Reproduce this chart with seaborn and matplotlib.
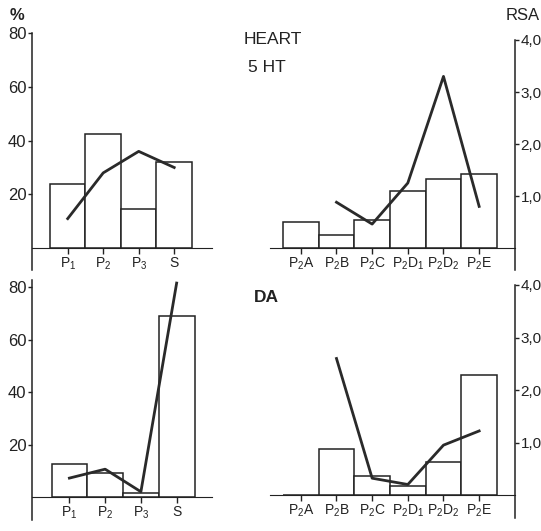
import matplotlib
matplotlib.use("Agg")
import matplotlib.pyplot as plt
import seaborn as sns
import numpy as np
import pandas as pd

# ---- data ----
cats_left = ["P1", "P2", "P3", "S"]
labels_left = [r"$\mathrm{P_1}$", r"$\mathrm{P_2}$", r"$\mathrm{P_3}$", "S"]
cats_right = ["P2A", "P2B", "P2C", "P2D1", "P2D2", "P2E"]
labels_right = [r"$\mathrm{P_2A}$", r"$\mathrm{P_2B}$", r"$\mathrm{P_2C}$",
                r"$\mathrm{P_2D_1}$", r"$\mathrm{P_2D_2}$", r"$\mathrm{P_2E}$"]

# HEART 5HT
ht_bar_left = [24, 42.5, 14.5, 32]
ht_line_left = [11, 28, 36, 30]
ht_bar_right = [0.5, 0.25, 0.54, 1.1, 1.33, 1.42]
ht_line_cats = ["P2B", "P2C", "P2D1", "P2D2", "P2E"]
ht_line_right = [0.88, 0.46, 1.25, 3.3, 0.8]

# DA
da_bar_left = [12.6, 9, 1.5, 69]
da_line_left = [7.2, 10.6, 2, 81.5]
da_bar_right = [0, 0.88, 0.36, 0.17, 0.63, 2.28]
da_line_cats = ["P2B", "P2C", "P2D1", "P2D2", "P2E"]
da_line_right = [2.6, 0.32, 0.2, 0.95, 1.22]

W, H = 541, 531
plt.rcParams['font.family'] = ['Liberation Sans', 'DejaVu Sans']
plt.rcParams['mathtext.fontset'] = 'custom'
plt.rcParams['mathtext.rm'] = 'Liberation Sans'
plt.rcParams['mathtext.it'] = 'Liberation Sans'
fig = plt.figure(figsize=(W / 100, H / 100), dpi=100)
XFS = 12
LFS = 12
RFS = 11
INK = "#222222"


def add_ax(l, r, t, b):
    return fig.add_axes([l / W, 1 - b / H, (r - l) / W, (b - t) / H])


def draw_panel(ax, cats, labels, bars, line_cats, line_vals, side, xlim, ylim, yticks, ytl):
    df = pd.DataFrame({"cat": cats, "val": bars})
    sns.barplot(data=df, x="cat", y="val", order=cats, color="white", saturation=1,
                edgecolor=INK, linewidth=1.1, width=1.0, ax=ax)
    pos = [cats.index(c) for c in line_cats]
    ldf = pd.DataFrame({"x": pos, "y": line_vals})
    sns.lineplot(data=ldf, x="x", y="y", color="#2a2a2a", linewidth=2.0, ax=ax,
                 legend=False, clip_on=False)
    ax.set_xlim(*xlim)
    ax.set_ylim(*ylim)
    ax.set_xticks(range(len(cats)))
    ax.set_xticklabels(labels, fontsize=XFS)
    ax.set_xlabel("")
    ax.set_ylabel("")
    ax.set_facecolor("none")
    ax.spines["top"].set_visible(False)
    ax.spines["bottom"].set_position(("data", 0))
    ax.spines["bottom"].set_color(INK)
    ax.tick_params(axis="x", length=4, width=1, pad=1.5, colors=INK)
    if side == "left":
        ax.spines["right"].set_visible(False)
        ax.yaxis.tick_left()
        fs = LFS
    else:
        ax.spines["left"].set_visible(False)
        ax.yaxis.tick_right()
        fs = RFS
    ax.spines[side].set_color(INK)
    ax.spines[side].set_linewidth(1.1)
    ax.set_yticks(yticks)
    ax.set_yticklabels(ytl, fontsize=fs)
    ax.tick_params(axis="y", length=3, width=1, pad=1, colors=INK)


# top-left
ax1 = add_ax(32, 212, 33, 270)
draw_panel(ax1, cats_left, labels_left, ht_bar_left, cats_left, ht_line_left, "left",
           (-1.006, 4.065), (-8.1, 80), [20, 40, 60, 80], ["20", "40", "60", "80"])
# bottom-left
ax3 = add_ax(32, 212, 280, 520)
draw_panel(ax3, cats_left, labels_left, da_bar_left, cats_left, da_line_left, "left",
           (-1.046, 3.989), (-8.76, 82.67), [20, 40, 60, 80], ["20", "40", "60", "80"])
# top-right
ax2 = add_ax(270, 515, 40, 270)
draw_panel(ax2, cats_right, labels_right, ht_bar_right, ht_line_cats, ht_line_right, "right",
           (-0.864, 6.005), (-0.423, 4.0), [1, 2, 3, 4], ["1,0", "2,0", "3,0", "4,0"])
# bottom-right
ax4 = add_ax(270, 515, 285, 518)
draw_panel(ax4, cats_right, labels_right, da_bar_right, da_line_cats, da_line_right, "right",
           (-0.864, 6.005), (-0.438, 4.0), [1, 2, 3, 4], ["1,0", "2,0", "3,0", "4,0"])

# texts
fig.text(10 / W, 1 - 16 / H, "%", fontsize=12, fontweight="bold", va="center", ha="left", color=INK)
fig.text(540 / W, 1 - 16 / H, "RSA", fontsize=12, va="center", ha="right", color=INK)
fig.text(244 / W, 1 - 39 / H, "HEART", fontsize=12.5, va="center", ha="left", color=INK)
fig.text(248 / W, 1 - 67 / H, "5 HT", fontsize=12.5, va="center", ha="left", color=INK)
fig.text(254 / W, 1 - 297 / H, "DA", fontsize=12.5, fontweight="bold", va="center", ha="left", color=INK)

fig.savefig("out.png", dpi=100, facecolor="white")
